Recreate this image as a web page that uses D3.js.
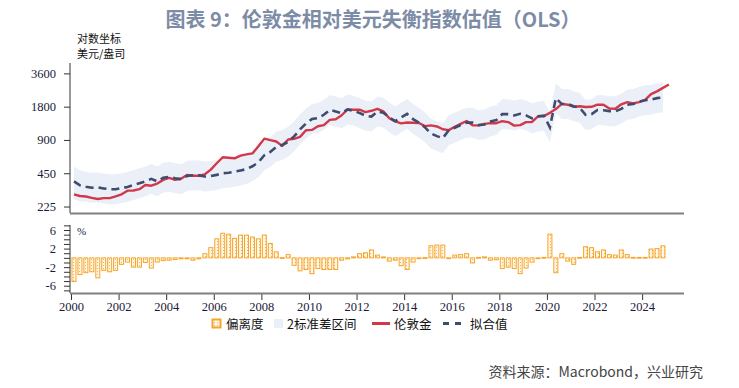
<!DOCTYPE html>
<html>
<head>
<meta charset="utf-8">
<script src="https://cdn.jsdelivr.net/npm/d3@7"></script>
<style>
  html, body { margin: 0; padding: 0; background: #fff; }
  svg { display: block; }
</style>
</head>
<body>
<svg id="chart" width="739" height="388"></svg>
<script>
// Gold vs USD imbalance index (OLS), quarterly 2000Q1 - 2025Q1

const startYear = 2000;

// London gold, USD/oz, quarterly average (2000Q1 .. 2025Q1)
const gold = [
  290, 280, 277, 269,  263, 268, 268, 278,  290, 313, 314, 323,
  352, 347, 363, 392,  408, 393, 401, 434,  427, 427, 440, 485,
  554, 628, 622, 614,  650, 667, 680, 788,  925, 896, 872, 795,
  908, 922, 960, 1100, 1109, 1197, 1227, 1367, 1386, 1506, 1702, 1688,
  1691, 1609, 1652, 1722, 1632, 1415, 1326, 1272, 1293, 1288, 1282, 1201,
  1218, 1192, 1124, 1105, 1183, 1260, 1335, 1222, 1219, 1257, 1278, 1275,
  1329, 1306, 1213, 1226, 1304, 1310, 1472, 1481, 1583, 1711, 1909, 1874,
  1794, 1816, 1790, 1795, 1877, 1871, 1729, 1726, 1890, 1976, 1928, 1976,
  2070, 2338, 2474, 2663, 2860
];

// fitted value (2000Q1 .. 2024Q4)
const fitted = [
  380, 350, 340, 333,  335, 328, 322, 322,  330, 338, 352, 365,
  380, 400, 380, 410,  418, 405, 398, 425,  432, 430, 420, 425,
  435, 450, 455, 465,  477, 490, 520, 565,  655, 700, 780, 810,
  865, 970, 1120, 1270, 1390, 1420, 1520, 1680, 1630, 1570, 1700, 1650,
  1580, 1490, 1465, 1630, 1590, 1440, 1330, 1440, 1550, 1390, 1290, 1170,
  1030, 975, 935, 1100, 1160, 1230, 1290, 1290, 1225, 1240, 1320, 1360,
  1545, 1540, 1500, 1550, 1500, 1410, 1470, 1490, 1170, 2150, 1900, 1900,
  1820, 1760, 1520, 1540, 1680, 1670, 1640, 1640, 1720, 1870, 1900, 2000,
  2060, 2080, 2150, 2180
];

// 2-sd band, upper / lower edge
const bandUpper = [
  519, 478, 464, 455,  458, 448, 440, 440,  451, 462, 481, 499,
  519, 546, 519, 560,  571, 553, 544, 581,  590, 587, 574, 581,
  594, 615, 622, 635,  652, 669, 710, 772,  895, 956, 1065, 1106,
  1182, 1325, 1530, 1735, 1899, 1940, 2076, 2295, 2227, 2145, 2322, 2254,
  2158, 2035, 2001, 2227, 2172, 1967, 1817, 1967, 2117, 1899, 1762, 1598,
  1407, 1332, 1277, 1503, 1585, 1680, 1762, 1762, 1673, 1694, 1803, 1858,
  2110, 2104, 2049, 2117, 2049, 1926, 2008, 2035, 1598, 2937, 2595, 2595,
  2486, 2404, 2076, 2104, 2295, 2281, 2240, 2240, 2350, 2554, 2595, 2732,
  2814, 2841, 2937, 2978
];
const bandLower = [
  262, 250, 249, 244,  245, 240, 236, 236,  242, 247, 258, 267,
  278, 293, 278, 300,  306, 296, 291, 311,  316, 315, 307, 311,
  318, 329, 333, 340,  349, 359, 381, 414,  479, 512, 571, 593,
  633, 710, 820, 930, 1017, 1039, 1113, 1230, 1193, 1149, 1244, 1208,
  1157, 1091, 1072, 1193, 1164, 1054, 974, 1054, 1135, 1017, 944, 856,
  754, 714, 684, 805, 849, 900, 944, 944, 897, 908, 966, 996,
  1131, 1127, 1098, 1135, 1098, 1032, 1076, 1091, 856, 1574, 1391, 1391,
  1332, 1288, 1113, 1127, 1230, 1222, 1200, 1200, 1259, 1369, 1391, 1464,
  1508, 1523, 1574, 1596
];

// deviation, % (2000Q1 .. 2024Q4)
const deviation = [
  -5.1, -3.6, -3.2, -3.0,  -4.3, -2.7, -3.0, -2.7,  -1.4, -0.9, -2.0, -2.0,
  -1.0, -2.2, -0.9, -0.6,  -0.5, -0.35, -0.2, -0.2,  -0.5, -0.2, 0.9, 2.2,
  4.1, 5.3, 5.1, 4.2,  4.9, 4.9, 4.5, 4.1,  4.9, 3.1, 1.3, 0.05,
  0.7, -1.6, -2.8, -2.5,  -3.4, -2.3, -2.5, -2.5,  -2.5, -0.5, -0.2, 0.2,
  0.9, 1.1, 1.7, 0.6,  0.2, -0.7, -0.5, -1.7,  -2.5, -0.9, -0.1, 0.05,
  2.6, 2.75, 2.75, -0.1,  0.6, 0.7, 0.9, -1.1,  0.1, 0.2, -0.5, -0.4,
  -2.3, -2.0, -2.3, -3.4,  -2.2, -0.9, -0.1, 0.1,  5.1, -3.2, 0.9, -0.7,
  -1.4, 0.1, 2.4, 2.2,  1.3, 1.7, 0.7, 0.6,  1.7, 0.7, 0.1, 0.1,
  0.1, 1.9, 2.0, 2.6
];

const yTicks = [225, 450, 900, 1800, 3600];
const devTicks = [-6, -2, 2, 6];
const yearTicks = [2000, 2002, 2004, 2006, 2008, 2010, 2012, 2014, 2016, 2018, 2020, 2022, 2024];

// quarter midpoints as fractional years
const qTime = i => startYear + 0.125 + 0.25 * i;

const svg = d3.select("#chart");
const serif = "'Liberation Serif', 'DejaVu Serif', serif";
const cjk = "'Noto Sans CJK SC', 'Noto Sans', sans-serif";

const x = d3.scaleLinear().domain([2000, 2025.76]).range([71, 684]);
const y = d3.scaleLog().domain([196.6, 4469]).range([213, 63]);
const yd = d3.scaleLinear().domain([-7.57, 7.08]).range([293, 225]);

// bar fill pattern
const defs = svg.append("defs");
const pat = defs.append("pattern")
  .attr("id", "dots").attr("patternUnits", "userSpaceOnUse")
  .attr("width", 3).attr("height", 3);
pat.append("rect").attr("width", 3).attr("height", 3).attr("fill", "#fff6e6");
pat.append("rect").attr("x", 1).attr("y", 1).attr("width", 1).attr("height", 1)
  .attr("fill", "#f6b54a");

// title
svg.append("text")
  .attr("x", 373).attr("y", 27)
  .attr("text-anchor", "middle")
  .attr("font-family", cjk).attr("font-weight", "bold")
  .attr("font-size", 20).attr("fill", "#7d8ca6")
  .text("图表 9：伦敦金相对美元失衡指数估值（OLS）");

// upper panel: band, fitted, gold
const band = d3.area()
  .x((d, i) => x(qTime(i)))
  .y0((d, i) => y(bandLower[i]))
  .y1(d => y(d));
svg.append("path").datum(bandUpper)
  .attr("d", band).attr("fill", "#ebf0f8");

const line = d3.line().x((d, i) => x(qTime(i))).y(d => y(d));

svg.append("path").datum(gold)
  .attr("d", line).attr("fill", "none")
  .attr("stroke", "#d1394b").attr("stroke-width", 2.4)
  .attr("stroke-linejoin", "round");

svg.append("path").datum(fitted)
  .attr("d", line).attr("fill", "none")
  .attr("stroke", "#3f4c6d").attr("stroke-width", 2.6)
  .attr("stroke-dasharray", "8,5");

// upper y axis
const yAxis = svg.append("g").attr("transform", "translate(70,0)")
  .call(d3.axisLeft(y).tickValues(yTicks).tickFormat(d3.format("d")).tickSize(6).tickPadding(8));
yAxis.select(".domain").attr("stroke", "#333").attr("d", "M0,63V213");
yAxis.selectAll(".tick line").attr("stroke", "#333");
yAxis.selectAll("text").attr("font-family", serif).attr("font-size", 12.5).attr("fill", "#1a1a3a");

svg.append("line")
  .attr("x1", 70).attr("x2", 684).attr("y1", 213.5).attr("y2", 213.5)
  .attr("stroke", "#808080").attr("stroke-width", 2);

svg.append("text").attr("x", 77).attr("y", 43)
  .attr("font-family", cjk).attr("font-size", 11).attr("fill", "#111").text("对数坐标");
svg.append("text").attr("x", 77).attr("y", 58)
  .attr("font-family", cjk).attr("font-size", 11).attr("fill", "#111").text("美元/盎司");

// lower panel: deviation bars
svg.append("g").selectAll("rect")
  .data(deviation).join("rect")
  .attr("x", (d, i) => x(qTime(i)) - 2)
  .attr("width", 4)
  .attr("y", d => yd(Math.max(0, d)))
  .attr("height", d => Math.max(0.8, Math.abs(yd(d) - yd(0))))
  .attr("fill", "url(#dots)")
  .attr("stroke", "#f5a52c").attr("stroke-width", 1);

const devAxis = svg.append("g").attr("transform", "translate(70,0)")
  .call(d3.axisLeft(yd).tickValues(d3.range(-7, 8)).tickSize(6).tickPadding(8)
    .tickFormat(d => devTicks.includes(d) ? d : ""));
devAxis.select(".domain").attr("stroke", "#333").attr("d", "M0,225V293");
devAxis.selectAll(".tick line").attr("stroke", "#333");
devAxis.selectAll("text").attr("font-family", serif).attr("font-size", 12.5).attr("fill", "#1a1a3a");

svg.append("text").attr("x", 77).attr("y", 235)
  .attr("font-family", serif).attr("font-size", 11).attr("fill", "#1a1a3a").text("%");

const xAxis = svg.append("g").attr("transform", "translate(0,293)")
  .call(d3.axisBottom(x).tickValues(yearTicks).tickFormat(d3.format("d")).tickSize(7).tickPadding(2));
xAxis.select(".domain").remove();
xAxis.selectAll(".tick line").attr("stroke", "#333");
xAxis.selectAll("text").attr("font-family", serif).attr("font-size", 12.5).attr("fill", "#1a1a3a");

svg.append("line")
  .attr("x1", 70).attr("x2", 684).attr("y1", 293.5).attr("y2", 293.5)
  .attr("stroke", "#808080").attr("stroke-width", 2);

// legend
const lg = svg.append("g").attr("font-family", cjk).attr("font-size", 12.5).attr("fill", "#111");
lg.append("rect").attr("x", 212.5).attr("y", 319.5).attr("width", 8).attr("height", 8)
  .attr("fill", "url(#dots)").attr("stroke", "#f5a52c").attr("stroke-width", 2);
lg.append("text").attr("x", 226).attr("y", 328.5).text("偏离度");
lg.append("rect").attr("x", 274).attr("y", 319).attr("width", 9).attr("height", 9).attr("fill", "#ebf0f8");
lg.append("text").attr("x", 287).attr("y", 328.5).text("2标准差区间");
lg.append("line").attr("x1", 372).attr("x2", 390).attr("y1", 323.5).attr("y2", 323.5)
  .attr("stroke", "#d1394b").attr("stroke-width", 3);
lg.append("text").attr("x", 394).attr("y", 328.5).text("伦敦金");
lg.append("line").attr("x1", 443).attr("x2", 461).attr("y1", 323.5).attr("y2", 323.5)
  .attr("stroke", "#3f4c6d").attr("stroke-width", 3).attr("stroke-dasharray", "6,6");
lg.append("text").attr("x", 470).attr("y", 328.5).text("拟合值");

// source
svg.append("text").attr("x", 703).attr("y", 377).attr("text-anchor", "end")
  .attr("font-family", cjk).attr("font-size", 14).attr("fill", "#444")
  .text("资料来源：Macrobond，兴业研究");
</script>
</body>
</html>
